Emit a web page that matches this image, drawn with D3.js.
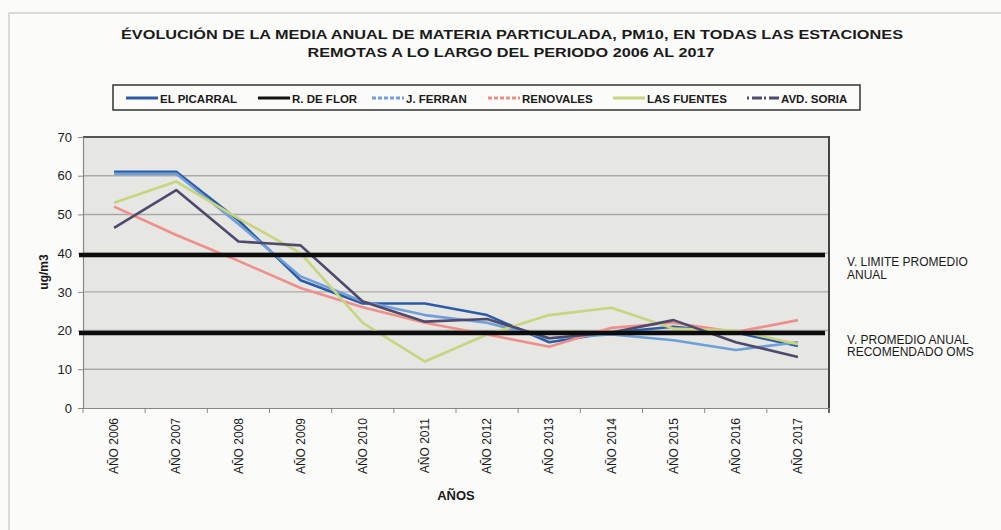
<!DOCTYPE html>
<html>
<head>
<meta charset="utf-8">
<script src="https://cdn.jsdelivr.net/npm/d3@7"></script>
<style>
  body { margin: 0; background: #fbfbf9; }
  svg { display: block; }
  text { font-family: "Liberation Sans", Arial, sans-serif; fill: #1a1a1a; }
</style>
</head>
<body>
<script>
// data (ug/m3)
var years = ["AÑO 2006","AÑO 2007","AÑO 2008","AÑO 2009","AÑO 2010","AÑO 2011",
             "AÑO 2012","AÑO 2013","AÑO 2014","AÑO 2015","AÑO 2016","AÑO 2017"];
var elPicarral = [61, 61, 48.5, 33, 27, 27, 24, 17, 19.5, 21, 19.5, 16];
var rDeFlor    = [];   // in the legend, no visible line
var jFerran    = [60.5, 60.5, 47.5, 34, 27.5, 24, 22, 18, 19, 17.5, 15, 17];
var renovales  = [52, 44.7, 38, 31, 26, 22, 19, 15.8, 20.7, 22, 19.6, 22.7];
var lasFuentes = [53, 58.5, 49, 40, 22, 12, 19, 24, 25.9, 20.5, 20, 16.5];
var avdSoria   = [46.5, 56.3, 43, 42, 27.5, 22.3, 23, 18, 19.5, 22.7, 17, 13.2];
var seriesNames = ["EL PICARRAL","R. DE FLOR","J. FERRAN","RENOVALES","LAS FUENTES","AVD. SORIA"];
var limitValues = [39.5, 19.4];
var limitLabels = [["V. LIMITE  PROMEDIO","ANUAL"],["V. PROMEDIO ANUAL","RECOMENDADO  OMS"]];
var yTicks = [0, 10, 20, 30, 40, 50, 60, 70];

var W = 1001, H = 530;
var plot = {left: 83, right: 829, top: 137, bottom: 408};

var svg = d3.select("body").append("svg").attr("width", W).attr("height", H);

// faint scan frame
svg.append("path").attr("d", "M9,530 L9,13 L1001,13")
  .attr("fill", "none").attr("stroke", "#cfcfcf").attr("stroke-width", 1.5);

// title
var title = svg.append("g").attr("font-weight", "bold");
title.append("text").attr("x", 512).attr("y", 39).attr("text-anchor", "middle")
  .attr("font-size", 13).attr("textLength", 782).attr("lengthAdjust", "spacingAndGlyphs")
  .text("ÉVOLUCIÓN DE LA MEDIA ANUAL DE MATERIA PARTICULADA, PM10, EN TODAS LAS ESTACIONES");
title.append("text").attr("x", 511).attr("y", 57).attr("text-anchor", "middle")
  .attr("font-size", 13).attr("textLength", 407).attr("lengthAdjust", "spacingAndGlyphs")
  .text("REMOTAS A LO LARGO DEL PERIODO 2006 AL 2017");

var x = d3.scaleBand().domain(years).range([plot.left, plot.right]);
var y = d3.scaleLinear().domain([0, 70]).range([plot.bottom, plot.top]);
var cx = d => x(d) + x.bandwidth() / 2;

var colors = ["#2c5ca6", "#111111", "#6f9fd8", "#ef8f8c", "#c8d47e", "#4f4a6c"];
var dashes = [null, null, "4,2", "4,2", null, "2,3,10,2"];
var allSeries = [elPicarral, rDeFlor, jFerran, renovales, lasFuentes, avdSoria];

// plot background and grid
svg.append("rect").attr("x", plot.left).attr("y", plot.top)
  .attr("width", plot.right - plot.left).attr("height", plot.bottom - plot.top)
  .attr("fill", "#e6e6e3");
svg.append("g").selectAll("line").data(yTicks.filter(d => d > 0)).join("line")
  .attr("x1", plot.left).attr("x2", plot.right)
  .attr("y1", d => y(d)).attr("y2", d => y(d))
  .attr("stroke", d => d === 70 ? "#555" : "#a9a9a7")
  .attr("stroke-width", d => d === 70 ? 2 : 1.4);
svg.append("line").attr("x1", plot.right).attr("x2", plot.right)
  .attr("y1", plot.top - 1).attr("y2", plot.bottom + 5)
  .attr("stroke", "#444").attr("stroke-width", 2);

// y axis
var yAxis = svg.append("g").attr("transform", `translate(${plot.left},0)`)
  .call(d3.axisLeft(y).tickValues(yTicks).tickSize(5).tickPadding(6));
yAxis.select(".domain").attr("stroke", "#888").attr("stroke-width", 1.2);
yAxis.selectAll(".tick line").attr("stroke", "#888");
yAxis.selectAll("text").attr("font-size", 13).attr("fill", "#1a1a1a")
  .attr("font-family", "'Open Sans', Arial, sans-serif");

svg.append("text").attr("transform", "translate(48,272) rotate(-90)")
  .attr("text-anchor", "middle").attr("font-weight", "bold").attr("font-size", 12)
  .attr("font-family", "'Open Sans', Arial, sans-serif").text("ug/m3");

// x axis
var xAxis = svg.append("g").attr("transform", `translate(0,${plot.bottom})`)
  .call(d3.axisBottom(x).tickSize(0));
xAxis.select(".domain").attr("stroke", "#888").attr("stroke-width", 1.2);
xAxis.selectAll("text").attr("font-size", 12).attr("fill", "#1a1a1a")
  .attr("font-family", "'Open Sans', Arial, sans-serif")
  .attr("text-anchor", "end").attr("dy", "0.35em")
  .attr("transform", "translate(0,10) rotate(-90)").attr("x", 0).attr("y", 0);
svg.append("g").selectAll("line").data(years.concat([null])).join("line")
  .attr("x1", (d, i) => plot.left + i * x.bandwidth())
  .attr("x2", (d, i) => plot.left + i * x.bandwidth())
  .attr("y1", plot.bottom).attr("y2", plot.bottom + 5)
  .attr("stroke", "#888");
svg.append("text").attr("x", 456).attr("y", 500).attr("text-anchor", "middle")
  .attr("font-weight", "bold").attr("font-size", 13)
  .attr("font-family", "'Open Sans', Arial, sans-serif").text("AÑOS");

// series
var line = d3.line().x((d, i) => cx(years[i])).y(d => y(d));
svg.append("g").selectAll("path").data(allSeries).join("path")
  .attr("d", d => d.length ? line(d) : null)
  .attr("fill", "none")
  .attr("stroke", (d, i) => colors[i])
  .attr("stroke-width", 2.6)
  .attr("stroke-linejoin", "round");

// limit lines
svg.append("g").selectAll("line").data(limitValues).join("line")
  .attr("x1", 79).attr("x2", plot.right - 4)
  .attr("y1", d => y(d)).attr("y2", d => y(d))
  .attr("stroke", "#0c0c0c").attr("stroke-width", 4.5);

var lim = svg.append("g").selectAll("text").data(limitLabels).join("text")
  .attr("x", 847).attr("y", (d, i) => y(limitValues[i]) + 11)
  .attr("font-size", 12).attr("fill", "#222");
lim.selectAll("tspan").data(d => d).join("tspan")
  .attr("x", 847).attr("dy", (d, i) => i === 0 ? 0 : 12.5).text(d => d);

// legend
var legend = svg.append("g");
legend.append("rect").attr("x", 113).attr("y", 85).attr("width", 747).attr("height", 25)
  .attr("fill", "#fbfbf9").attr("stroke", "#333").attr("stroke-width", 1.5);
var legX = [126, 258, 372, 488, 613, 747];
var item = legend.selectAll("g").data(seriesNames).join("g")
  .attr("transform", (d, i) => `translate(${legX[i]},98)`);
item.append("line").attr("x1", 0).attr("x2", 32).attr("y1", 0).attr("y2", 0)
  .attr("stroke", (d, i) => colors[i]).attr("stroke-width", 3)
  .attr("stroke-dasharray", (d, i) => dashes[i]);
item.append("text").attr("x", 34).attr("y", 4.5).attr("font-size", 11.5)
  .attr("font-weight", "bold").attr("fill", "#222")
  .attr("font-family", "'Liberation Sans Narrow', 'DejaVu Sans Condensed', Arial, sans-serif")
  .text(d => d);
</script>
</body>
</html>
